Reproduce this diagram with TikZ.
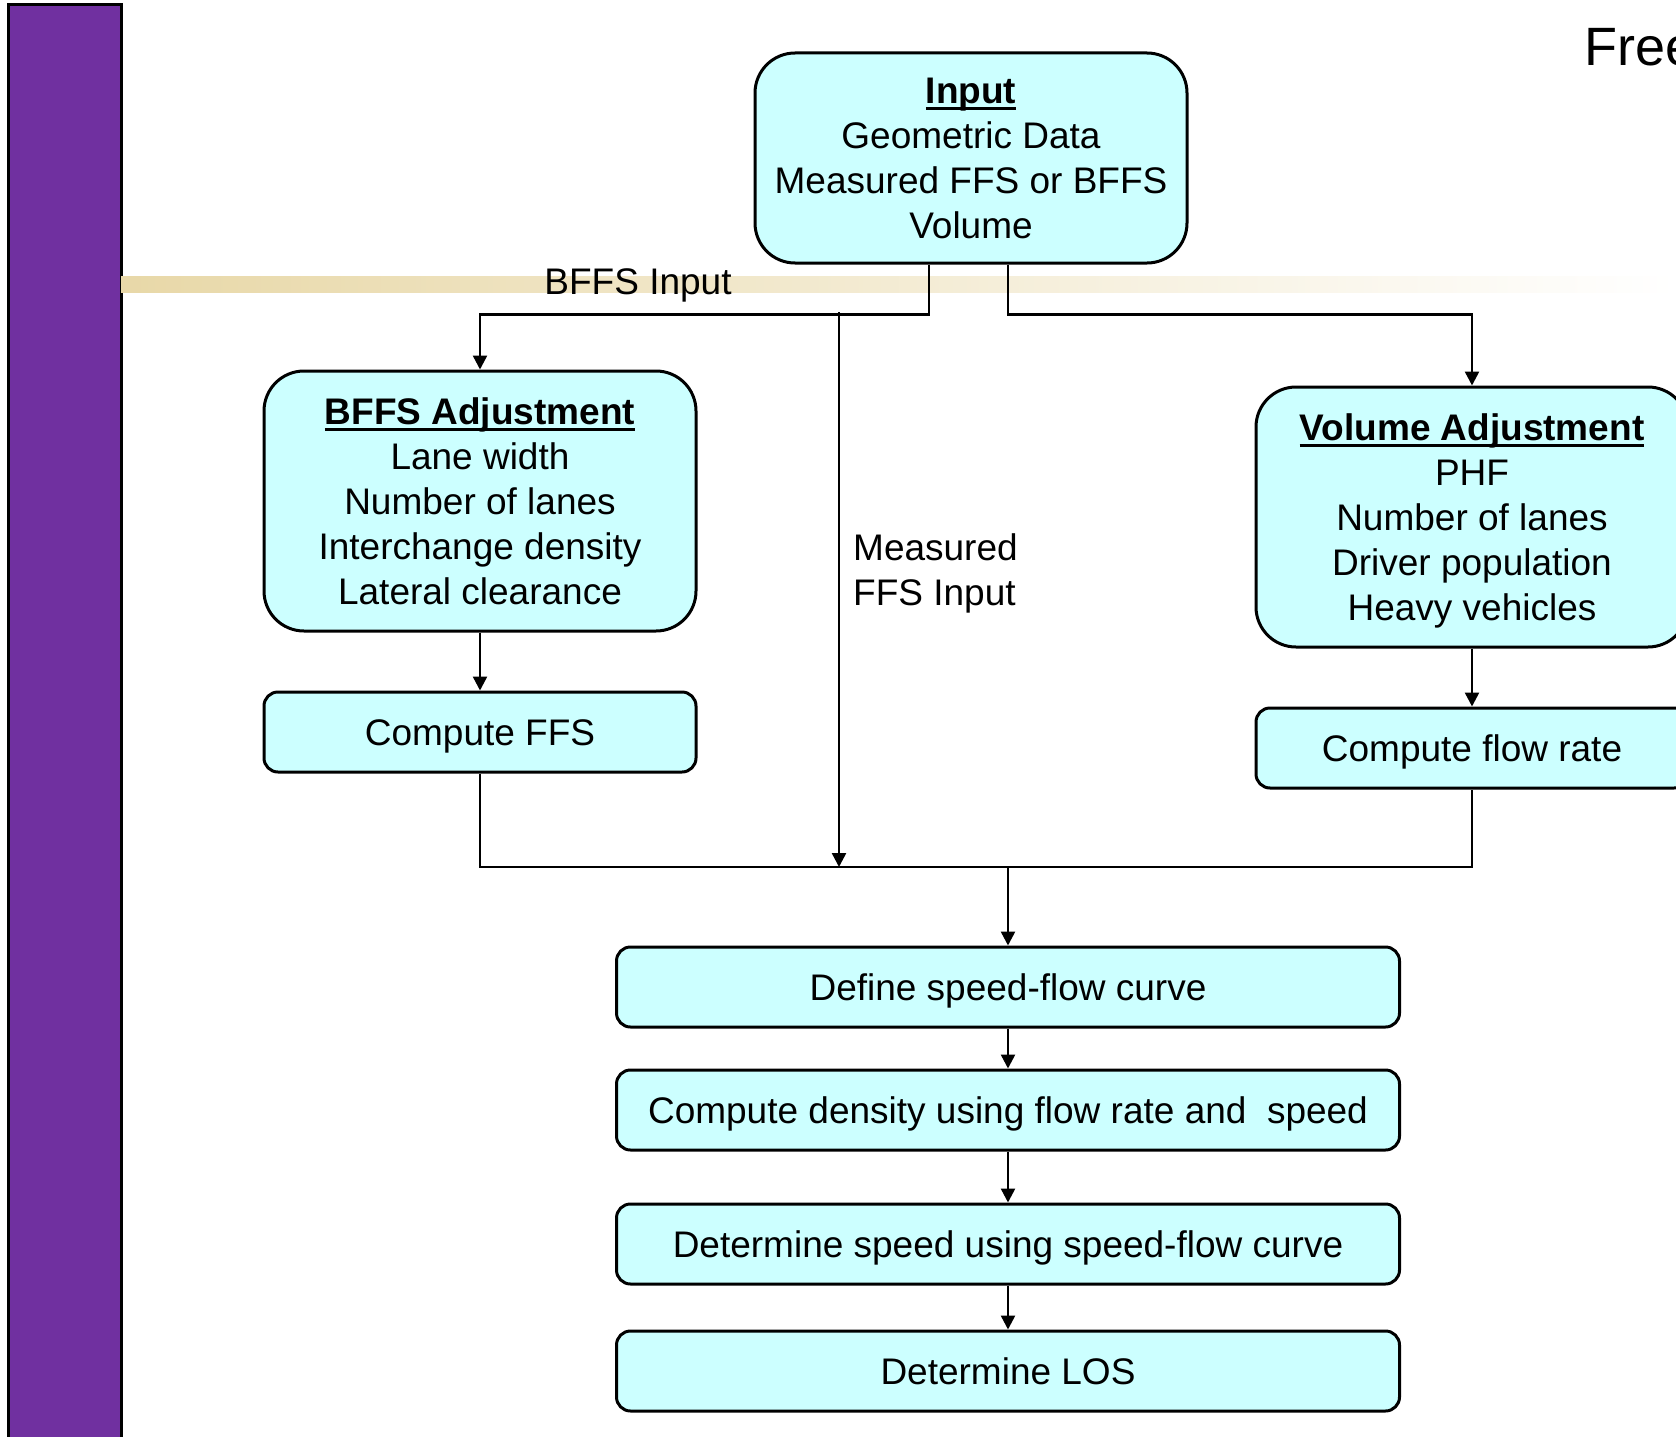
\documentclass[tikz,border=0pt]{standalone}
\usepackage{fontspec}
\setmainfont{Liberation Sans}
\usetikzlibrary{arrows.meta,calc}
\definecolor{boxcyan}{HTML}{CCFFFF}
\definecolor{barpurple}{HTML}{7030A0}
\definecolor{bartan}{HTML}{E8D8A8}
\newcommand{\boxtitle}[1]{\setbox0=\hbox{\textbf{#1}}\leavevmode\rlap{\vrule width\wd0 height -4pt depth 7pt}\box0}
\tikzset{
  bigbox/.style={draw=black, line width=3pt, fill=boxcyan, rounded corners=40pt,
    minimum width=432pt, minimum height=260pt, inner sep=0pt, align=center,
    text depth=0pt, font=\fontsize{37}{45}\selectfont},
  smallbox/.style={draw=black, line width=3pt, fill=boxcyan, rounded corners=14pt,
    minimum width=432pt, minimum height=80pt, inner sep=0pt,
    text height=27pt, text depth=0pt, font=\fontsize{37}{44}\selectfont},
  longbox/.style={smallbox, minimum width=783pt},
  flowline/.style={line width=2.5pt},
  flowarrow/.style={flowline, -{Triangle[width=14pt,length=14pt]}},
  plainlabel/.style={font=\fontsize{37}{45}\selectfont, inner sep=0pt}
}

\begin{document}
\begin{tikzpicture}[x=1pt,y=-1pt]
		%%%%% FRAME %%%%%
		\clip (0,0) rectangle (1676,1437);
		\fill[white] (0,0) rectangle (1676,1437);
		
		\draw[line width=3pt, fill=barpurple] (8,5) rectangle (121,1450);
		\shade[left color=bartan, right color=white] (121,276) rectangle (1676,292);
		
		\node[anchor=base west, font=\fontsize{54}{60}\selectfont, inner sep=0pt] (title) at (1584,66) {Free};
		
		%%%%% BOXES %%%%%
		\node[bigbox, minimum height=210pt] (input) at (971,158)
			{\boxtitle{Input}\\Geometric Data\\Measured FFS or BFFS\\Volume};
		\node[bigbox] (bffs) at (480,501)
			{\boxtitle{BFFS Adjustment}\\Lane width\\Number of lanes\\Interchange density\\Lateral clearance};
		\node[bigbox] (voladj) at (1472,517)
			{\boxtitle{Volume Adjustment}\\PHF\\Number of lanes\\Driver population\\Heavy vehicles};
		
		\node[smallbox] (ffs) at (480,732) {Compute FFS};
		\node[smallbox] (flow) at (1472,748) {Compute flow rate};
		
		\node[longbox] (curve) at (1008,987) {Define speed-flow curve};
		\node[longbox] (density) at (1008,1110) {Compute density using flow rate and \ speed};
		\node[longbox] (speed) at (1008,1244) {Determine speed using speed-flow curve};
		\node[longbox] (los) at (1008,1371) {Determine LOS};
		
		%%%%% CONNECTORS %%%%%
		\coordinate (mfork) at (839,312);
		\coordinate (merge) at (839,867);
		
		\draw[flowarrow] ([xshift=-42pt]input.south) -- ++(0,50) -| (bffs.north);
		\draw[flowarrow] ([xshift=37pt]input.south) -- ++(0,50) -| (voladj.north);
		\draw[flowarrow] (mfork) -- (merge);
		
		\draw[flowarrow] (bffs) -- (ffs);
		\draw[flowarrow] (voladj) -- (flow);
		\draw[flowline] (ffs.south) |- (merge) -| (flow.south);
		
		\draw[flowarrow] (merge -| curve.north) -- (curve.north);
		\draw[flowarrow] (curve) -- (density);
		\draw[flowarrow] (density) -- (speed);
		\draw[flowarrow] (speed) -- (los);
		
		\node[plainlabel] (bffsin) at (638,285) {BFFS Input};
		\node[plainlabel, anchor=west, align=left] (measin) at (853,573) {Measured\\FFS Input};
		
		%%%%% END %%%%%
	\end{tikzpicture}
\end{document}
